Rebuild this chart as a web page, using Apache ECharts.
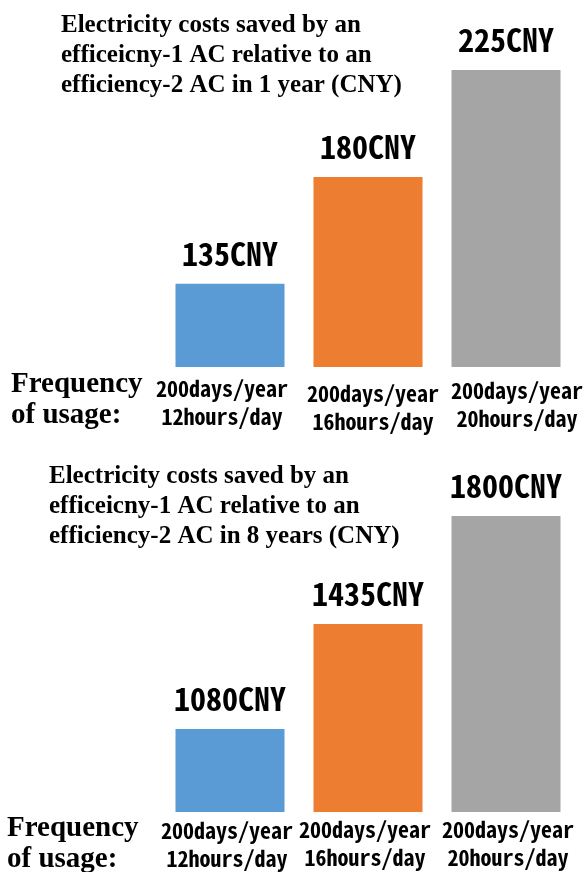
<!DOCTYPE html>
<html>
<head>
<meta charset="utf-8">
<script src="https://cdn.jsdelivr.net/npm/echarts@6/dist/echarts.min.js"></script>
<style>
  html, body { margin: 0; padding: 0; background: #fff; }
  #chart { width: 588px; height: 872px; }
</style>
</head>
<body>
<div id="chart"></div>
<script>
const categories = ['200days/year\n12hours/day', '200days/year\n16hours/day', '200days/year\n20hours/day'];
const oneYearSavings = [135, 180, 225];
const eightYearSavings = [1080, 1435, 1800];
const titleOneYear = 'Electricity costs saved by an\nefficeicny-1 AC relative to an\nefficiency-2 AC in 1 year (CNY)';
const titleEightYears = 'Electricity costs saved by an\nefficeicny-1 AC relative to an\nefficiency-2 AC in 8 years (CNY)';
const freqLabel = 'Frequency\nof usage:';

const palette = ['#5B9BD5', '#ED7D31', '#A5A5A5'];
const serif = '"Liberation Serif", "Times New Roman", serif';
const monoFont = '"Noto Sans Mono CJK SC", "DejaVu Sans Mono", monospace';

const chart = echarts.init(document.getElementById('chart'));

const colored = (vals) => vals.map((v, i) => ({ value: v, itemStyle: { color: palette[i] } }));

// the tick labels in the original sit a bit unevenly, nudge each one
const nudged = (shifts) => categories.map((c, i) => {
    const [dx, dy] = shifts[i];
    return {
        value: c,
        textStyle: { padding: [dy, dx < 0 ? -2 * dx : 0, 0, dx > 0 ? 2 * dx : 0] }
    };
});

const xAxisBase = {
    type: 'category',
    axisLine: { show: false },
    axisTick: { show: false },
    axisLabel: {
        interval: 0,
        hideOverlap: false,
        color: '#000',
        fontSize: 22,
        fontWeight: 'bold',
        fontFamily: monoFont,
        lineHeight: 28,
        margin: 4
    }
};

const barBase = {
    type: 'bar',
    barWidth: 109,
    animation: false,
    label: {
        show: true,
        position: 'top',
        distance: 14,
        formatter: '{c}CNY',
        color: '#000',
        fontSize: 32,
        fontWeight: 'bold',
        fontFamily: monoFont
    }
};

const titleStyle = { color: '#000', fontSize: 25, fontWeight: 'bold', fontFamily: serif, lineHeight: 30 };
const freqStyle = { color: '#000', fontSize: 29, fontWeight: 'bold', fontFamily: serif, lineHeight: 31 };

chart.setOption({
    title: [
        { text: titleOneYear, left: 56, top: 6, textStyle: titleStyle },
        { text: titleEightYears, left: 44, top: 457, textStyle: titleStyle },
        { text: freqLabel, left: 6, top: 364, textStyle: freqStyle },
        { text: freqLabel, left: 2, top: 808, textStyle: freqStyle }
    ],
    grid: [
        { left: 161, right: 13, top: 70, height: 297, outerBoundsMode: 'none' },
        { left: 161, right: 13, top: 516, height: 296, outerBoundsMode: 'none' }
    ],
    xAxis: [
        Object.assign({ gridIndex: 0, data: nudged([[-8, 4], [5, 9], [11, 6]]) }, xAxisBase),
        Object.assign({ gridIndex: 1, data: nudged([[-3, 1], [-3, 0], [2, 0]]) }, xAxisBase)
    ],
    yAxis: [
        { gridIndex: 0, type: 'value', min: 100, max: 225, show: false },
        { gridIndex: 1, type: 'value', min: 800, max: 1800, show: false }
    ],
    series: [
        Object.assign({}, barBase, { xAxisIndex: 0, yAxisIndex: 0, data: colored(oneYearSavings) }),
        Object.assign({}, barBase, { xAxisIndex: 1, yAxisIndex: 1, data: colored(eightYearSavings) })
    ]
});
</script>
</body>
</html>
